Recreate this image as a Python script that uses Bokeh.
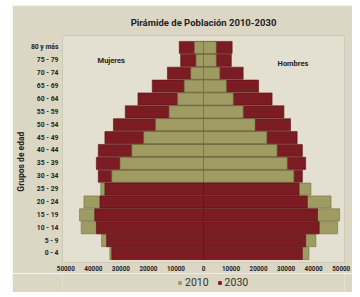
from bokeh.plotting import figure
from bokeh.models import Range1d, FixedTicker, Legend, LegendItem, Label
from bokeh.layouts import column
from bokeh.embed import file_html
from bokeh.resources import INLINE
import numpy as np

groups = ["0 - 4", "5 - 9", "10 - 14", "15 - 19", "20 - 24", "25 - 29", "30 - 34", "35 - 39",
          "40 - 44", "45 - 49", "50 - 54", "55 - 59", "60 - 64", "65 - 69", "70 - 74", "75 - 79", "80 y más"]
mujeres_2010 = [34000, 37000, 44400, 45000, 43400, 37300, 33300, 30300, 26000, 21700, 17400, 12500, 9400, 7000, 4600, 2700, 3300]
mujeres_2030 = [33300, 35200, 38900, 39500, 37600, 35800, 38200, 38900, 38200, 35800, 32700, 28400, 23800, 18600, 13100, 8300, 8800]
hombres_2010 = [38300, 40800, 48700, 49400, 46300, 39000, 32800, 30400, 26700, 23000, 18700, 14400, 10800, 8300, 5900, 4600, 4600]
hombres_2030 = [35900, 37100, 42000, 41400, 37700, 34700, 35900, 37100, 35900, 34000, 31600, 29200, 24900, 20000, 14400, 10100, 10400]
x_ticks = [-50000, -40000, -30000, -20000, -10000, 0, 10000, 20000, 30000, 40000, 50000]

OLIVE = "#9e9c63"
RED = "#7b1c22"
BG = "#dcd7c4"
PLOT_BG = "#e4e0d1"
FONT = "Roboto"

y = np.arange(len(groups))
w10 = -np.array(mujeres_2010)
w30 = -np.array(mujeres_2030)
m10 = np.array(hombres_2010)
m30 = np.array(hombres_2030)

p = figure(width=340, height=268, output_backend="svg", toolbar_location=None,
           x_range=Range1d(-51200, 51200), y_range=Range1d(-0.70, 16.93),
           min_border_left=44, min_border_right=8, min_border_top=30, min_border_bottom=11)
p.background_fill_color = PLOT_BG
p.border_fill_color = BG
p.outline_line_color = "#cfcab8"
p.grid.visible = False

p.title.text = "Pirámide de Población 2010-2030"
p.title.align = "center"
p.title.text_font = FONT
p.title.text_font_size = "9.5px"
p.title.text_font_style = "bold"
p.title.text_color = "#222222"
p.title.standoff = 16

H = 0.94
def layer(mask_w, mask_m, vals_w, vals_m, color, line):
    p.hbar(y=y[mask_w], left=vals_w[mask_w], right=0, height=H, fill_color=color, line_color=line, line_width=0.6)
    p.hbar(y=y[mask_m], left=0, right=vals_m[mask_m], height=H, fill_color=color, line_color=line, line_width=0.6)

# the larger bar of each row sits behind, the smaller one in front
back30_w = np.abs(w30) >= np.abs(w10)
back30_m = m30 >= m10
layer(back30_w, back30_m, w30, m30, RED, "#5a1015")
layer(np.ones(len(y), bool), np.ones(len(y), bool), w10, m10, OLIVE, "#6f6d40")
layer(~back30_w, ~back30_m, w30, m30, RED, "#5a1015")

p.xaxis.ticker = FixedTicker(ticks=x_ticks)
p.xaxis.major_label_overrides = {t: str(abs(t)) for t in x_ticks}
p.yaxis.ticker = FixedTicker(ticks=list(y))
p.yaxis.major_label_overrides = {int(i): g for i, g in enumerate(groups)}
for ax in (p.xaxis, p.yaxis):
    ax.axis_line_color = None
    ax.major_tick_line_color = None
    ax.minor_tick_line_color = None
    ax.major_tick_out = 0
    ax.major_tick_in = 0
    ax.minor_tick_out = 0
    ax.major_label_text_font = FONT
    ax.major_label_text_font_style = "bold"
    ax.major_label_text_color = "#222222"
p.xaxis.major_label_text_font_size = "6.3px"
p.yaxis.major_label_text_font_size = "6.8px"
p.xaxis.major_label_standoff = 3
p.yaxis.major_label_standoff = 4
p.yaxis.axis_label = "Grupos de edad" + "\u00a0" * 12
p.yaxis.axis_label_text_font = FONT
p.yaxis.axis_label_text_font_size = "8.5px"
p.yaxis.axis_label_text_font_style = "bold"
p.yaxis.axis_label_text_color = "#222222"
p.yaxis.axis_label_standoff = 2

for txt, xv, yv in (("Mujeres", -33500, 15.0), ("Hombres", 32500, 14.75)):
    p.add_layout(Label(x=xv, y=yv, text=txt, text_font=FONT, text_font_size="7.5px",
                       text_font_style="bold", text_color="#222222", text_align="center",
                       text_baseline="middle"))

# legend strip
lg = figure(width=340, height=19, output_backend="svg", toolbar_location=None,
            x_range=Range1d(0, 1), y_range=Range1d(0, 1),
            min_border_left=0, min_border_right=0, min_border_top=0, min_border_bottom=0)
lg.axis.visible = False
lg.grid.visible = False
lg.outline_line_color = None
lg.background_fill_color = BG
lg.border_fill_color = BG
r10 = lg.scatter(x=[-5], y=[-5], marker="square", size=8, color=OLIVE)
r30 = lg.scatter(x=[-5], y=[-5], marker="square", size=8, color=RED)
legend = Legend(items=[LegendItem(label="2010", renderers=[r10]), LegendItem(label="2030", renderers=[r30])],
                orientation="horizontal", location=(114, 3), background_fill_alpha=0,
                border_line_alpha=0, label_text_font=FONT, label_text_font_size="10.5px",
                label_text_color="#333333", glyph_width=7, glyph_height=7, spacing=7,
                label_standoff=2, padding=0, margin=0)
lg.add_layout(legend, "center")

layout = column(p, lg, spacing=0)
layout.margin = (5, 0, 0, 12)

open("out.html", "w").write(file_html(layout, INLINE))
